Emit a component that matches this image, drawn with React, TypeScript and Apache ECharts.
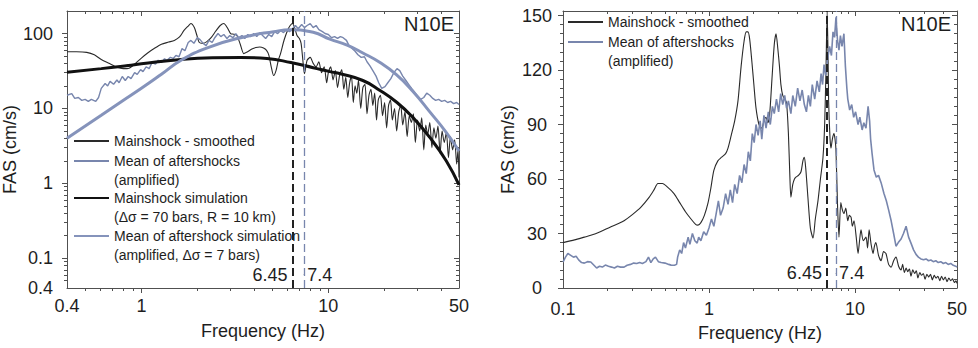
import React, { useEffect, useRef } from 'react';
import * as echarts from 'echarts';

const lg = Math.log10;
const FONT = '"Liberation Sans", Arial, Helvetica, sans-serif';
const TXT = '#1e1e1e';
const AX = '#505050';
const BLACK_THIN = '#2a2a2a';
const BLACK_THICK = '#111111';
const BLUE_THIN = '#7886ad';
const BLUE_THICK = '#8593bb';

// ---------- tick definitions ----------
const leftXRange = [0.4, 50];
const leftXMajor = [1, 10];
const leftXMinor = [0.5, 0.6, 0.7, 0.8, 0.9, 2, 3, 4, 5, 6, 7, 8, 9, 20, 30, 40];
const leftXLabelVals = [0.4, 1, 10, 50];
const leftXLabelTexts = ['0.4', '1', '10', '50'];

const leftYRange = [0.04, 200];
const leftYMajor = [0.1, 1, 10, 100];
const leftYMinor = [0.05, 0.06, 0.07, 0.08, 0.09, 0.2, 0.3, 0.4, 0.5, 0.6, 0.7, 0.8, 0.9, 2, 3, 4, 5, 6, 7, 8, 9, 20, 30, 40, 50, 60, 70, 80, 90];
const leftYLabelVals = [0.04, 0.1, 1, 10, 100];
const leftYLabelTexts = ['0.4', '0.1', '1', '10', '100'];

const rightXRange = [0.1, 50];
const rightXMajor = [1, 10];
const rightXMinor = [0.2, 0.3, 0.4, 0.5, 0.6, 0.7, 0.8, 0.9, 2, 3, 4, 5, 6, 7, 8, 9, 20, 30, 40];
const rightXLabelVals = [0.1, 1, 10, 50];
const rightXLabelTexts = ['0.1', '1', '10', '50'];

const rightYRange = [0, 152.5];
const rightYMajor = [0, 30, 60, 90, 120, 150];
const rightYMinor = [5, 10, 15, 20, 25, 35, 40, 45, 50, 55, 65, 70, 75, 80, 85, 95, 100, 105, 110, 115, 125, 130, 135, 140, 145];
const rightYLabelTexts = ['0', '30', '60', '90', '120', '150'];

const cornerFreqs = [6.45, 7.4];
const cornerLabels = ['6.45', '7.4'];

// ---------- data: [frequency Hz, FAS cm/s] ----------
const leftMainSmoothed = [
  [0.40, 57], [0.45, 57], [0.51, 56], [0.56, 52], [0.61, 45], [0.67, 40], [0.74, 35.5], [0.80, 34], [0.86, 34.5], [0.92, 39],
  [1.0, 47], [1.08, 55], [1.17, 63], [1.28, 72], [1.4, 77], [1.5, 81], [1.6, 90], [1.69, 110], [1.78, 126], [1.84, 136],
  [1.92, 120], [1.98, 95], [2.04, 76], [2.14, 74], [2.24, 78], [2.36, 88], [2.5, 108], [2.64, 128], [2.76, 136], [2.88, 120],
  [3.0, 100], [3.12, 98], [3.24, 94], [3.38, 72], [3.53, 54], [3.7, 57], [3.9, 62], [4.1, 65], [4.3, 66], [4.5, 64],
  [4.66, 60], [4.8, 52], [4.95, 36], [5.1, 27.5], [5.25, 32], [5.4, 44], [5.55, 54], [5.8, 82], [6.05, 110], [6.25, 128],
  [6.43, 136], [6.6, 120], [6.8, 94], [7.0, 86], [7.15, 74], [7.3, 45], [7.45, 29], [7.7, 44], [8.0, 48], [8.3, 40],
  [8.6, 36], [8.9, 42], [9.2, 30], [9.5, 36], [9.8, 22], [10.0, 30], [10.3, 36], [10.6, 24], [10.9, 32], [11.2, 19],
  [11.5, 28], [11.8, 33], [12.1, 18], [12.4, 26], [12.7, 14], [13.0, 22], [13.3, 27], [13.6, 12], [13.9, 20], [14.2, 16],
  [14.5, 24], [14.9, 10], [15.3, 19], [15.7, 21], [16.1, 8.5], [16.5, 15], [16.9, 18], [17.3, 11], [17.7, 16], [18.1, 7],
  [18.5, 13], [19.0, 15], [19.5, 8], [20.0, 12], [20.5, 5.5], [21.0, 11], [21.5, 13], [22.0, 7], [22.6, 10], [23.2, 5],
  [23.8, 9], [24.4, 11], [25.0, 6], [25.7, 9], [26.4, 4.2], [27.1, 8], [27.8, 6.5], [28.5, 8.5], [29.2, 3.5], [30.0, 7],
  [30.8, 5], [31.6, 7.5], [32.4, 2.8], [33.2, 6], [34.0, 4.5], [34.9, 6.5], [35.8, 3], [36.7, 5.5], [37.6, 4], [38.6, 5.8],
  [39.6, 2.5], [40.6, 5], [41.7, 3.5], [42.8, 4.8], [43.9, 2.2], [45.0, 4.2], [46.2, 2.8], [47.4, 3.8], [48.6, 1.8], [49.4, 2.8],
  [50, 1.2],
];

const leftAftershockMean = [
  [0.4, 15], [0.424, 15.8], [0.44, 13.6], [0.46, 14], [0.48, 12.8], [0.50, 13.2], [0.52, 12.4], [0.54, 13.2], [0.57, 12.4], [0.59, 14],
  [0.61, 18.5], [0.64, 21.5], [0.66, 20], [0.68, 23], [0.71, 21], [0.74, 24], [0.76, 22], [0.79, 26.7], [0.82, 23.6], [0.85, 26.7],
  [0.88, 25], [0.92, 30], [0.95, 28.5], [0.99, 33], [1.02, 31], [1.06, 36], [1.10, 34], [1.14, 41], [1.19, 39], [1.23, 44],
  [1.28, 41], [1.33, 46], [1.37, 44], [1.43, 48], [1.48, 46.5], [1.53, 51], [1.59, 49], [1.65, 63], [1.71, 59], [1.78, 76],
  [1.84, 81], [1.91, 74], [1.99, 88], [2.06, 83], [2.14, 74], [2.22, 69], [2.30, 81], [2.39, 76], [2.47, 88], [2.57, 100],
  [2.66, 91], [2.76, 97], [2.87, 86], [2.97, 94], [3.09, 88], [3.2, 100], [3.32, 88], [3.45, 94], [3.57, 86], [3.71, 97],
  [3.85, 91], [3.99, 100], [4.14, 91], [4.3, 103], [4.45, 94], [4.62, 86], [4.8, 97], [4.98, 91], [5.16, 106], [5.36, 100],
  [5.55, 110], [5.76, 103], [5.98, 113], [6.2, 106], [6.43, 116], [6.67, 128], [6.9, 116], [7.2, 132], [7.45, 120], [7.7, 128],
  [8.0, 136], [8.3, 120], [8.6, 128], [8.9, 113], [9.3, 106], [9.6, 100], [10.0, 97], [10.4, 88], [10.8, 91], [11.2, 86],
  [11.6, 91], [12.0, 88], [12.5, 81], [12.9, 69], [13.4, 63], [13.9, 58], [14.4, 52], [15.0, 48], [15.6, 49], [16.1, 42],
  [16.7, 37], [17.3, 32], [18.0, 27], [18.6, 22], [19.3, 18.5], [20.1, 19.6], [20.8, 22], [21.6, 25], [22.4, 30], [23.3, 34],
  [24.1, 32], [25.0, 27], [26.0, 23.6], [26.9, 21], [27.9, 18.5], [29.0, 16.3], [30.1, 14.5], [31.2, 13.2], [32.4, 14], [33.6, 16],
  [34.9, 15], [36.2, 13.6], [37.5, 12.8], [38.9, 13.2], [40.4, 12.4], [41.9, 12.8], [43.5, 12], [45.1, 12.4], [46.8, 11.6], [48.6, 12],
  [50, 11.3],
];

const leftMainSimulation = [
  [0.4, 30.4], [0.61, 34], [0.85, 37.5], [1.0, 39.5], [1.63, 45], [2.4, 47.5], [3.4, 48], [4.7, 46.4], [6.3, 41], [8.3, 35],
  [10.2, 31], [11.6, 29], [15.3, 23.6], [18.9, 17.4], [23.3, 12], [28.3, 7.6], [34.9, 4.1], [42.7, 2.0], [50, 0.95],
];

const leftAftershockSimulation = [
  [0.4, 4.0], [0.61, 8.1], [0.78, 12.3], [1.0, 18.6], [1.28, 28.6], [1.63, 44], [2.27, 65], [3.4, 88], [5.1, 106], [6.3, 112],
  [8.3, 104], [10.2, 84], [12.6, 70], [15.3, 55], [18.9, 41], [23.2, 28], [28.3, 17], [34.9, 9], [42.7, 4.8], [50, 2.7],
];

const rightMainSmoothed = [
  [0.1, 25], [0.12, 26.5], [0.14, 28], [0.155, 29], [0.18, 31], [0.21, 33.5], [0.24, 35.5], [0.262, 37], [0.3, 40.5], [0.342, 44.5],
  [0.39, 50], [0.42, 54], [0.447, 57.5], [0.48, 57.5], [0.52, 55.5], [0.576, 52], [0.63, 47], [0.69, 42], [0.753, 38], [0.81, 35],
  [0.84, 34.6], [0.88, 36], [0.93, 40], [0.984, 46.7], [1.03, 55], [1.08, 64.8], [1.15, 70], [1.22, 72], [1.3, 74], [1.35, 77],
  [1.42, 84], [1.5, 92], [1.58, 103], [1.66, 122], [1.74, 136], [1.8, 141], [1.85, 141], [1.9, 137], [1.97, 124], [2.03, 112],
  [2.1, 99], [2.2, 90], [2.3, 88], [2.38, 92], [2.46, 94], [2.53, 91], [2.6, 95], [2.7, 115], [2.8, 134], [2.88, 140],
  [2.96, 132], [3.04, 122], [3.11, 112], [3.2, 106], [3.3, 104], [3.4, 102], [3.5, 85], [3.58, 62], [3.64, 50], [3.75, 57],
  [3.85, 60], [3.94, 61], [4.1, 62], [4.27, 64], [4.4, 70], [4.5, 72], [4.6, 66], [4.76, 50], [4.95, 33], [5.16, 27.5],
  [5.35, 38], [5.58, 48], [5.8, 60], [6.04, 72], [6.2, 90], [6.33, 120], [6.45, 152], [6.55, 125], [6.6, 103], [6.75, 82],
  [6.85, 77], [7.0, 82], [7.18, 85], [7.3, 82], [7.41, 76], [7.6, 45], [7.77, 28], [8.0, 47], [8.2, 43], [8.4, 41],
  [8.65, 44], [8.93, 37], [9.15, 40], [9.4, 39], [9.6, 34], [9.85, 37], [10.2, 28], [10.5, 19], [10.75, 26], [11.0, 32],
  [11.4, 26], [11.9, 28], [12.2, 22], [12.5, 32], [12.9, 24], [13.3, 19], [13.6, 23], [13.9, 25], [14.5, 18], [15.1, 15],
  [15.7, 20], [16.3, 19], [17.0, 13], [17.7, 11.5], [18.4, 15], [19.1, 17], [19.9, 12], [20.7, 10], [21.2, 13], [21.8, 8.5],
  [22.4, 11], [23.0, 9], [23.6, 10.5], [24.2, 6.5], [24.9, 10], [25.6, 8], [26.3, 9.5], [27.0, 5.5], [27.8, 8.5], [28.6, 7],
  [29.4, 8], [30.2, 4.8], [31.1, 7.5], [32.0, 6], [32.9, 7.5], [33.9, 4.5], [34.9, 7], [35.9, 5.5], [37.0, 6.5], [38.1, 4],
  [39.2, 6.5], [40.3, 4.5], [41.5, 6], [42.7, 3.5], [44.0, 5.5], [45.3, 4], [46.6, 5], [48.0, 3], [49.2, 4], [50, 2.5],
];

const rightAftershockMean = [
  [0.1, 14.3], [0.104, 17], [0.108, 19], [0.113, 18], [0.118, 17], [0.123, 17.5], [0.128, 15.5], [0.134, 14], [0.14, 13.7], [0.147, 14.5],
  [0.155, 14.3], [0.163, 12.5], [0.17, 11], [0.178, 12], [0.186, 11.5], [0.195, 12.6], [0.205, 12], [0.215, 11.5], [0.225, 11], [0.236, 12],
  [0.248, 11.5], [0.262, 11.5], [0.275, 12.5], [0.29, 13], [0.305, 13.7], [0.32, 13.5], [0.335, 14], [0.35, 13.5], [0.37, 14.5], [0.385, 17],
  [0.4, 14], [0.415, 16], [0.43, 17], [0.45, 14.5], [0.47, 14], [0.5, 13.7], [0.53, 13], [0.55, 12.6], [0.58, 12.5], [0.6, 13],
  [0.61, 17], [0.63, 21], [0.65, 19], [0.67, 25], [0.69, 22], [0.72, 28], [0.74, 24], [0.77, 30], [0.80, 26], [0.83, 24.7],
  [0.85, 28], [0.88, 26], [0.92, 31], [0.96, 29], [1.0, 33], [1.04, 38], [1.08, 34], [1.12, 41], [1.16, 48], [1.2, 40],
  [1.25, 44], [1.3, 52], [1.35, 46], [1.4, 54], [1.45, 47], [1.5, 57], [1.56, 52], [1.62, 62], [1.68, 58], [1.74, 68],
  [1.8, 63], [1.86, 75], [1.92, 70], [1.98, 85], [2.04, 80], [2.1, 90], [2.17, 84], [2.24, 92], [2.3, 82], [2.38, 95],
  [2.46, 88], [2.55, 97], [2.63, 90], [2.72, 100], [2.8, 96], [2.9, 104], [3.0, 97], [3.1, 107], [3.2, 101], [3.3, 106],
  [3.4, 99], [3.5, 103], [3.64, 96], [3.75, 106], [3.9, 100], [4.05, 110], [4.2, 103], [4.35, 109], [4.5, 101], [4.65, 97],
  [4.8, 106], [4.95, 100], [5.1, 112], [5.3, 104], [5.5, 114], [5.7, 108], [5.86, 118], [6.0, 112], [6.14, 123], [6.3, 117],
  [6.5, 126], [6.7, 133], [6.9, 128], [7.07, 141], [7.25, 138], [7.41, 149], [7.6, 136], [7.77, 131], [7.95, 139], [8.15, 133],
  [8.4, 140], [8.6, 122], [8.8, 110], [8.93, 104], [9.2, 98], [9.5, 101], [9.8, 94], [10.1, 97], [10.5, 90], [10.8, 94],
  [11.2, 87], [11.5, 91], [11.9, 88], [12.3, 100], [12.6, 92], [12.8, 82], [13.1, 74], [13.5, 65], [14.0, 61], [14.5, 62],
  [15.1, 58], [15.8, 52], [16.4, 48], [17.0, 43], [17.7, 37], [18.4, 30], [19.1, 23], [19.8, 25], [20.7, 27], [21.5, 30],
  [22.4, 34], [23.3, 28], [24.2, 24.7], [25.2, 21], [26.2, 18.5], [27.2, 17], [28.3, 16], [29.5, 15.5], [30.7, 16], [31.9, 15],
  [33.1, 15.4], [34.4, 14.5], [35.8, 15], [37.2, 14], [38.7, 14.5], [40.3, 13.5], [41.9, 14], [43.5, 13], [45.3, 13.5], [47.1, 12.5],
  [49, 12], [50, 11.5],
];

const SERIES_NAMES = ['Mainshock - smoothed', 'Mean of aftershocks', 'Mainshock simulation', 'Mean of aftershock simulation'];
const leftCornerLabelAmp = 0.06;
const rightCornerLabelAmp = 8;

// ---------- helpers ----------
const ident = (v: number) => v;

function fmtFrom(vals: number[], texts: string[], tf: (v: number) => number) {
  return (v: number) => {
    for (let i = 0; i < vals.length; i++) if (Math.abs(tf(vals[i]) - v) < 1e-6) return texts[i];
    return '';
  };
}

function tickStyle(len: number, inside: boolean, vals: number[]) {
  return { show: true, inside, length: len, lineStyle: { color: AX, width: 1 }, customValues: vals };
}

function xAxesFor(grid: number, range: number[], majors: number[], minors: number[], labelVals: number[], labelTexts: string[], labelMargin: number, nameGap: number) {
  const tf = lg;
  const base: any = {
    type: 'value', gridIndex: grid, min: tf(range[0]), max: tf(range[1]), silent: true,
    splitLine: { show: false }, axisLine: { show: false, onZero: false }, axisLabel: { show: false }, axisTick: { show: false },
  };
  const line = { show: true, onZero: false, lineStyle: { color: AX, width: 1 } };
  return [
    {
      ...base, position: 'bottom', axisLine: line,
      axisTick: tickStyle(5, false, majors.map(tf)),
      axisLabel: { show: true, customValues: labelVals.map(tf), formatter: fmtFrom(labelVals, labelTexts, tf), color: TXT, fontSize: 18, fontFamily: FONT, margin: labelMargin },
      name: 'Frequency (Hz)', nameLocation: 'middle', nameGap, nameTextStyle: { color: TXT, fontSize: 18, fontFamily: FONT },
    },
    { ...base, position: 'bottom', axisTick: tickStyle(3, false, minors.map(tf)) },
    { ...base, position: 'top', axisLine: line, axisTick: tickStyle(5, true, majors.map(tf)) },
    { ...base, position: 'top', axisTick: tickStyle(3, true, minors.map(tf)) },
  ];
}

function yAxesFor(grid: number, range: number[], tf: (v: number) => number, majors: number[], minors: number[], labelVals: number[], labelTexts: string[], labelMargin: number, labelAlign: string, nameGap: number) {
  const base: any = {
    type: 'value', gridIndex: grid, min: tf(range[0]), max: tf(range[1]), silent: true,
    splitLine: { show: false }, axisLine: { show: false, onZero: false }, axisLabel: { show: false }, axisTick: { show: false },
  };
  const line = { show: true, onZero: false, lineStyle: { color: AX, width: 1 } };
  return [
    {
      ...base, position: 'left', axisLine: line,
      axisTick: tickStyle(5, false, majors.map(tf)),
      axisLabel: { show: true, customValues: labelVals.map(tf), formatter: fmtFrom(labelVals, labelTexts, tf), color: TXT, fontSize: 18, fontFamily: FONT, margin: labelMargin, align: labelAlign },
      name: 'FAS (cm/s)', nameLocation: 'middle', nameGap, nameTextStyle: { color: TXT, fontSize: 18, fontFamily: FONT },
    },
    { ...base, position: 'left', axisTick: tickStyle(3, false, minors.map(tf)) },
    { ...base, position: 'right', axisLine: line, axisTick: tickStyle(5, true, majors.map(tf)) },
    { ...base, position: 'right', axisTick: tickStyle(3, true, minors.map(tf)) },
  ];
}

function lineSeries(name: string, pts: number[][], tx: (v: number) => number, ty: (v: number) => number, xi: number, yi: number, color: string, width: number, smooth: number | boolean) {
  return {
    type: 'line', name, xAxisIndex: xi, yAxisIndex: yi, data: pts.map(([f, a]) => [tx(f), ty(a)]),
    symbol: 'none', showSymbol: false, smooth, clip: true, silent: true,
    lineStyle: { color, width }, itemStyle: { color },
  };
}

function cornerLabel(text: string, position: string, distance: number) {
  return { show: true, position, distance, formatter: text, color: TXT, fontSize: 18, fontFamily: FONT, opacity: 1 };
}

function cornerSeries(xi: number, yi: number, labelY: number) {
  return {
    type: 'scatter', xAxisIndex: xi, yAxisIndex: yi, symbol: 'circle', symbolSize: 0.5, silent: true,
    itemStyle: { color: TXT, opacity: 1 },
    data: [
      { value: [lg(cornerFreqs[0]), labelY], label: cornerLabel(cornerLabels[0], 'left', 5) },
      { value: [lg(cornerFreqs[1]), labelY], label: cornerLabel(cornerLabels[1], 'right', 3) },
    ],
    markLine: {
      silent: true, symbol: ['none', 'none'], label: { show: false },
      data: [
        { xAxis: lg(cornerFreqs[0]), lineStyle: { color: '#222', type: [8, 4], width: 2, opacity: 1 } },
        { xAxis: lg(cornerFreqs[1]), lineStyle: { color: BLUE_THIN, type: [8, 4], width: 1.3, opacity: 1 } },
      ],
    },
  };
}

function legendFor(left: number, top: number, name: string, formatter: string) {
  return {
    left, top, padding: 0, orient: 'vertical', data: [name], itemWidth: 35, itemHeight: 14, itemGap: 0,
    selectedMode: false, formatter,
    itemStyle: { opacity: 0, color: 'rgba(0,0,0,0)', borderColor: 'rgba(0,0,0,0)', borderWidth: 0 },
    textStyle: { fontSize: 14, color: TXT, fontFamily: FONT, lineHeight: 19 },
  };
}

function buildOption() {
  const xAxis = [
    ...xAxesFor(0, leftXRange, leftXMajor, leftXMinor, leftXLabelVals, leftXLabelTexts, 9, 34),
    ...xAxesFor(1, rightXRange, rightXMajor, rightXMinor, rightXLabelVals, rightXLabelTexts, 12, 36),
  ];
  const yAxis = [
    ...yAxesFor(0, leftYRange, lg, leftYMajor, leftYMinor, leftYLabelVals, leftYLabelTexts, 14, 'right', 45),
    ...yAxesFor(1, rightYRange, ident, rightYMajor, rightYMinor, rightYMajor, rightYLabelTexts, 26, 'center', 46),
  ];
  const series = [
    lineSeries(SERIES_NAMES[0], leftMainSmoothed, lg, lg, 0, 0, BLACK_THIN, 1.1, 0.25),
    lineSeries(SERIES_NAMES[1], leftAftershockMean, lg, lg, 0, 0, BLUE_THIN, 1.4, false),
    lineSeries(SERIES_NAMES[2], leftMainSimulation, lg, lg, 0, 0, BLACK_THICK, 3, true),
    lineSeries(SERIES_NAMES[3], leftAftershockSimulation, lg, lg, 0, 0, BLUE_THICK, 3, true),
    cornerSeries(0, 0, lg(leftCornerLabelAmp)),
    lineSeries(SERIES_NAMES[0], rightMainSmoothed, lg, ident, 4, 4, BLACK_THIN, 1.1, 0.25),
    lineSeries(SERIES_NAMES[1], rightAftershockMean, lg, ident, 4, 4, BLUE_THIN, 1.6, false),
    cornerSeries(4, 4, rightCornerLabelAmp),
  ];
  return {
    animation: false,
    backgroundColor: '#ffffff',
    textStyle: { fontFamily: FONT },
    grid: [
      { left: 67, top: 11, width: 392, height: 277, containLabel: false, outerBoundsMode: 'none' },
      { left: 563, top: 11, width: 394, height: 277, containLabel: false, outerBoundsMode: 'none' },
    ],
    title: [
      { text: 'N10E', right: 524, top: 14, padding: 0, textStyle: { fontSize: 20, fontWeight: 'normal', color: TXT, fontFamily: FONT } },
      { text: 'N10E', right: 27, top: 14, padding: 0, textStyle: { fontSize: 20, fontWeight: 'normal', color: TXT, fontFamily: FONT } },
    ],
    legend: [
      legendFor(73, 131.5, SERIES_NAMES[0], '{name}'),
      legendFor(73, 132.5, SERIES_NAMES[1], '\n{name}\n(amplified)'),
      legendFor(73, 169.5, SERIES_NAMES[2], '\n{name}\n(\u0394\u03c3 = 70 bars, R = 10 km)'),
      legendFor(73, 207.5, SERIES_NAMES[3], '\n{name}\n(amplified, \u0394\u03c3 = 7 bars)'),
      legendFor(567, 12.5, SERIES_NAMES[0], '{name}'),
      legendFor(567, 13.5, SERIES_NAMES[1], '\n{name}\n(amplified)'),
    ],
    xAxis,
    yAxis,
    series,
  };
}

export default function App() {
  const ref = useRef<HTMLDivElement>(null);
  useEffect(() => {
    if (!ref.current) return;
    const chart = echarts.init(ref.current, null, { renderer: 'svg' });
    chart.setOption(buildOption() as any);
    return () => chart.dispose();
  }, []);
  return <div ref={ref} style={{ position: 'fixed', left: 0, top: 0, width: 978, height: 348, background: '#fff' }} />;
}
